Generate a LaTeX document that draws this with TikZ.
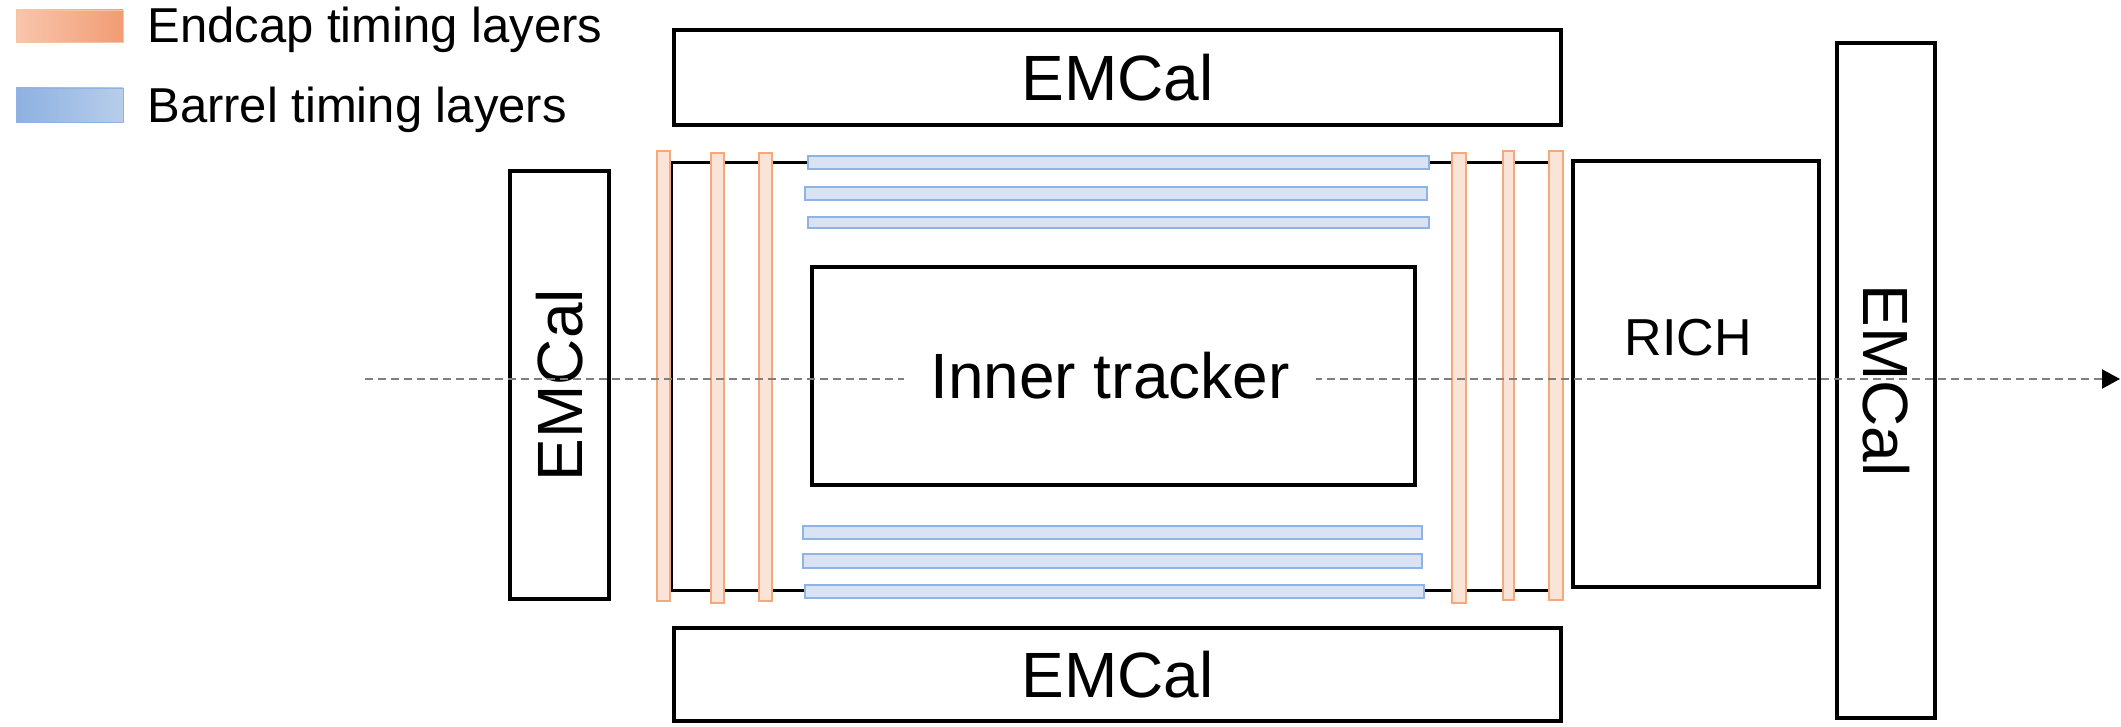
\documentclass[tikz,border=0pt]{standalone}
\usepackage{fontspec}
\setmainfont{Liberation Sans}
\usetikzlibrary{arrows.meta}
\definecolor{capfill}{HTML}{FAE4D7}
\definecolor{capdraw}{HTML}{F4A97C}
\definecolor{barfill}{HTML}{DAE3F3}
\definecolor{bardraw}{HTML}{8FB4E3}
\definecolor{capkeyL}{HTML}{F8C6AC}
\definecolor{capkeyR}{HTML}{F29C74}
\definecolor{barkeyL}{HTML}{8DB1E1}
\definecolor{barkeyR}{HTML}{B8CDEA}
\definecolor{axisgrey}{HTML}{7F7F7F}
\begin{document}
\begin{tikzpicture}[x=0.5pt, y=-0.5pt,
    every node/.style={inner sep=0pt, font=\fontsize{32}{38}\selectfont},
    detbox/.style={draw, rectangle, line width=1.6pt},
    endcap/.style={draw=capdraw, fill=capfill, line width=0.8pt},
    barrel/.style={draw=bardraw, fill=barfill, line width=0.8pt},
    keytext/.style={anchor=west, font=\fontsize{24.5}{29}\selectfont}]
      \useasboundingbox (0,0) rectangle (2121,727);
      % legend
      \node (capkey) at (69.5,26) [draw=capdraw!70, left color=capkeyL, right color=capkeyR, minimum width=53.5pt, minimum height=16pt] {};
      \node (barkey) at (69.5,105) [draw=bardraw, left color=barkeyL, right color=barkeyR, minimum width=53.5pt, minimum height=17pt] {};
      \node (captext) at (147,30) [keytext] {Endcap timing layers};
      \node (bartext) at (147,110) [keytext] {Barrel timing layers};
      % frame
      \draw[line width=1.5pt] (671,163) rectangle (1556,590);
      % timing layers
      \foreach \xa/\xb/\ya/\yb in {657/670/151/601, 711/724/153/603, 759/772/153/601, 1452/1466/153/603, 1503/1514/151/600, 1549/1563/151/600}
        \draw[endcap] (\xa,\ya) rectangle (\xb,\yb);
      \foreach \xa/\xb/\ya/\yb in {808/1429/156/169, 805/1427/187/200, 808/1429/217/228, 803/1422/526/539, 803/1422/554/568, 805/1424/585/598}
        \draw[barrel] (\xa,\ya) rectangle (\xb,\yb);
      % detectors
      \node (emtop) at (1117.5,77.5) [detbox, minimum width=443.5pt, minimum height=47.5pt] {EMCal};
      \node (embot) at (1117.5,674.5) [detbox, minimum width=443.5pt, minimum height=46.5pt] {EMCal};
      \node (emleft) at (559.5,385) [detbox, rotate=90, minimum width=214pt, minimum height=49.5pt] {EMCal};
      \node (emright) at (1886,380.5) [detbox, rotate=-90, minimum width=337.5pt, minimum height=49pt] {EMCal};
      \node (rich) at (1696,374) [detbox, minimum width=123pt, minimum height=213pt] {};
      \node (tracker) at (1113.5,376) [detbox, minimum width=301.5pt, minimum height=109pt] {};
      % beam axis
      \coordinate (axL) at (365,379);
      \coordinate (axR) at (2120,379);
      \draw[axisgrey, line width=1pt, dash pattern=on 4pt off 2.5pt, -{Triangle[color=black, length=9pt, width=9.5pt]}] (axL) -- (axR);
      \node (trackertext) at (1110,376) [fill=white, inner xsep=13pt, inner ysep=4pt] {Inner tracker};
      \node (richtext) at (1688,338) [font=\fontsize{26}{31}\selectfont] {RICH};
\end{tikzpicture}
\end{document}
